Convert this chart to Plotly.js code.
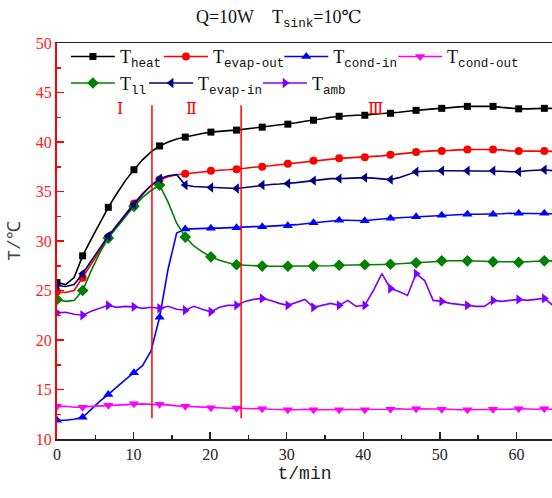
<!DOCTYPE html>
<html><head><meta charset="utf-8">
<script src="https://cdn.plot.ly/plotly-3.0.1.min.js"></script>
<style>body{margin:0;background:#fff}#chart{width:552px;height:498px}</style>
</head><body><div id="chart"></div>
<script>
// time axis (min)
const tMin = [0,1.12,2.23,3.35,4.47,5.58,6.70,7.82,8.93,10.05,
11.17,12.28,13.40,14.52,15.63,16.75,17.87,18.98,20.10,21.22,
22.33,23.45,24.57,25.68,26.80,27.92,29.03,30.15,31.27,32.38,
33.50,34.62,35.73,36.85,37.97,39.08,40.20,41.32,42.43,43.55,
44.67,45.78,46.90,48.02,49.13,50.25,51.37,52.48,53.60,54.72,
55.83,56.95,58.07,59.18,60.30,61.42,62.53,63.65,64.77];

const tHeat = [25.8,25.6,26.3,28.5,30.2,31.8,33.4,34.8,36.1,37.2,
38.2,39.0,39.6,40.0,40.3,40.5,40.7,40.85,41.0,41.1,
41.15,41.2,41.3,41.4,41.5,41.6,41.7,41.8,41.95,42.1,
42.2,42.35,42.5,42.6,42.65,42.7,42.7,42.8,42.85,42.9,
43.0,43.1,43.2,43.3,43.35,43.4,43.5,43.55,43.6,43.6,
43.6,43.6,43.5,43.4,43.35,43.35,43.4,43.4,43.4];

const tEvapOut = [24.9,24.8,25.0,26.3,27.6,29.0,30.4,31.6,32.7,33.8,
34.8,35.6,36.2,36.5,36.7,36.8,36.9,37.0,37.1,37.15,
37.2,37.25,37.35,37.45,37.5,37.6,37.7,37.8,37.9,38.0,
38.1,38.2,38.3,38.35,38.4,38.45,38.45,38.55,38.6,38.7,
38.8,38.9,39.0,39.05,39.1,39.1,39.15,39.2,39.25,39.25,
39.25,39.25,39.2,39.1,39.1,39.1,39.1,39.1,39.05];

const tCondIn = [11.9,11.9,12.0,12.2,13.0,13.8,14.5,15.3,16.0,16.7,
17.4,18.9,22.3,27.2,30.8,31.2,31.25,31.3,31.3,31.3,
31.35,31.35,31.4,31.45,31.45,31.5,31.5,31.55,31.65,31.75,
31.85,31.95,32.05,32.1,32.1,32.05,32.05,32.15,32.25,32.3,
32.35,32.4,32.45,32.5,32.55,32.6,32.65,32.7,32.7,32.7,
32.7,32.7,32.75,32.8,32.8,32.8,32.8,32.8,32.75];

const tCondOut = [13.3,13.3,13.2,13.2,13.3,13.35,13.4,13.45,13.5,13.55,
13.55,13.5,13.5,13.45,13.35,13.3,13.25,13.2,13.15,13.1,
13.1,13.1,13.1,13.05,13.05,13.0,12.95,12.95,12.95,13.0,
12.95,12.95,12.95,12.95,13.0,13.0,12.95,13.0,13.0,13.0,
13.05,13.0,13.05,13.05,13.0,13.0,13.0,12.95,12.95,13.0,
13.0,13.0,13.0,13.0,13.05,13.0,13.0,13.05,13.0];

const tLl = [24.1,23.9,24.0,25.0,27.0,28.8,30.3,31.4,32.5,33.5,
34.4,35.1,35.65,33.9,31.8,30.4,29.5,28.9,28.4,28.05,
27.8,27.6,27.55,27.5,27.47,27.45,27.45,27.45,27.45,27.45,
27.47,27.5,27.5,27.55,27.55,27.6,27.6,27.6,27.62,27.65,
27.7,27.75,27.8,27.9,27.95,28.0,28.0,28.0,28.0,28.0,
27.95,27.9,27.9,27.85,27.85,27.9,27.95,28.0,28.0];

const tEvapIn = [25.5,25.4,25.6,26.7,28.0,29.3,30.5,31.6,32.7,33.7,
34.7,35.6,36.3,36.6,36.7,35.65,35.5,35.45,35.4,35.35,
35.3,35.3,35.4,35.5,35.65,35.7,35.75,35.8,35.9,36.0,
36.1,36.2,36.3,36.3,36.35,36.4,36.4,36.35,36.3,36.2,
36.4,36.7,37.0,37.05,37.1,37.1,37.1,37.1,37.1,37.1,
37.1,37.1,37.05,37.0,37.0,37.1,37.15,37.2,37.1];

const tAmb = [22.75,22.8,22.6,22.5,22.9,23.2,23.5,23.3,23.4,23.35,
23.2,23.3,23.2,23.4,23.1,23.0,23.4,23.1,22.85,23.3,
23.5,23.5,23.9,24.1,24.2,24.0,23.7,23.5,23.8,24.1,
23.3,23.5,23.7,23.5,24.0,23.4,23.5,25.0,26.7,25.2,
24.9,24.5,26.7,26.0,24.0,23.9,23.7,23.6,23.5,23.4,
23.4,24.0,23.9,24.0,24.1,24.0,24.1,24.2,23.5];

const seriesSubs = ['heat','evap-out','cond-in','cond-out','ll','evap-in','amb'];
const stageBounds = [12.4, 24.05];
const stageLineSpan = [12.1, 43.7];
const stageLabels = ['Ⅰ','Ⅱ','Ⅲ'];
const stageLabelX = [8.2, 17.6, 41.6];
const stageLabelY = 43.4;
const xTicks = [0,10,20,30,40,50,60];
const yTicks = [10,15,20,25,30,35,40,45,50];

// legend entry placement (paper fractions), two rows
const legendX = [0.018, 0.206, 0.449, 0.679, 0.018, 0.176, 0.406];
const legendY = [1.012, 1.012, 1.012, 1.012, 0.945, 0.945, 0.945];

const seriesData = [tHeat, tEvapOut, tCondIn, tCondOut, tLl, tEvapIn, tAmb];
const styles = [
  {c:'#000000', s:'square', z:7},
  {c:'#ff0000', s:'circle', z:8},
  {c:'#0000ff', s:'triangle-up', z:9},
  {c:'#ff00ff', s:'triangle-down', z:9},
  {c:'#008000', s:'diamond', z:9},
  {c:'#000080', s:'triangle-left', z:9},
  {c:'#8000ff', s:'triangle-right', z:9}
];
const markerEvery = 3;
const FONT = 'Liberation Serif, DejaVu Serif, serif';
const MONO = 'Liberation Mono, DejaVu Sans Mono, monospace';
const subSpan = s => '<sub><span style="font-family:' + MONO + '">' + s + '</span></sub>';
const legendId = k => k === 0 ? 'legend' : 'legend' + (k + 1);

const traces = [];
seriesData.forEach((ys, k) => {
  const st = styles[k];
  traces.push({x: tMin, y: ys, mode: 'lines', type: 'scatter', showlegend: false,
    line: {color: st.c, width: 1.6}, hoverinfo: 'skip'});
  const mx = tMin.filter((_, i) => i % markerEvery === 0);
  const my = ys.filter((_, i) => i % markerEvery === 0);
  traces.push({x: mx, y: my, mode: 'markers', type: 'scatter', showlegend: false,
    marker: {color: st.c, symbol: st.s, size: st.z}, cliponaxis: true});
  traces.push({x: [null], y: [null], mode: 'lines+markers', type: 'scatter',
    name: 'T' + subSpan(seriesSubs[k]), legend: legendId(k),
    line: {color: st.c, width: 1.6}, marker: {color: st.c, symbol: st.s, size: st.z}});
});

const shapes = stageBounds.map(b => ({type: 'line', xref: 'x', yref: 'y', x0: b, x1: b,
  y0: stageLineSpan[0], y1: stageLineSpan[1], line: {color: '#ff0000', width: 1.5}}));
const annotations = stageLabels.map((s, i) => ({x: stageLabelX[i], y: stageLabelY, xref: 'x', yref: 'y',
  text: s, showarrow: false, font: {family: 'DejaVu Serif, Noto Sans CJK SC', size: 16, color: '#ff0000'}}));

const legendBase = {orientation: 'h', xanchor: 'left', yanchor: 'top', bgcolor: 'rgba(0,0,0,0)',
  font: {family: FONT, size: 18, color: '#111'}, itemwidth: 44, tracegroupgap: 0};

const layout = {
  width: 552, height: 498,
  margin: {l: 57, r: 0, t: 43, b: 59, pad: 0},
  paper_bgcolor: '#fff', plot_bgcolor: '#fff',
  title: {text: 'Q=10W\u00a0\u00a0\u00a0\u00a0T<sub><span style="font-family:' + MONO + '">sink</span></sub>=10℃',
    x: 0.505, xref: 'container', y: 0.966, yanchor: 'middle',
    font: {family: FONT, size: 18, color: '#111'}},
  xaxis: {range: [0, 64.65], tickvals: xTicks, ticks: 'inside', ticklen: 7, tickwidth: 1.5, tickcolor: '#222',
    showline: true, linecolor: '#222', linewidth: 1.5, mirror: true, showgrid: false, zeroline: false,
    tickfont: {family: FONT, size: 16, color: '#222'},
    minor: {dtick: 5, ticks: 'inside', ticklen: 4, tickcolor: '#222', tickwidth: 1.5, showgrid: false},
    title: {text: 't/min', font: {family: MONO, size: 18, color: '#222'}, standoff: 4}},
  yaxis: {range: [10, 50], tickvals: yTicks, ticks: 'inside', ticklen: 7, tickwidth: 1.5, tickcolor: '#ff0000',
    showline: true, linecolor: '#ff0000', linewidth: 2, showgrid: false, zeroline: false,
    tickfont: {family: FONT, size: 16, color: '#ff2020'},
    minor: {dtick: 2.5, ticks: 'inside', ticklen: 4, tickcolor: '#ff0000', tickwidth: 1.5, showgrid: false},
    title: {text: 'T/℃', font: {family: MONO, size: 18, color: '#444'}, standoff: 10}},
  shapes: shapes,
  annotations: annotations,
  showlegend: true
};
seriesData.forEach((_, k) => {
  layout[legendId(k)] = Object.assign({x: legendX[k], y: legendY[k]}, legendBase);
});

Plotly.newPlot('chart', traces, layout, {displayModeBar: false, staticPlot: true});
</script></body></html>
